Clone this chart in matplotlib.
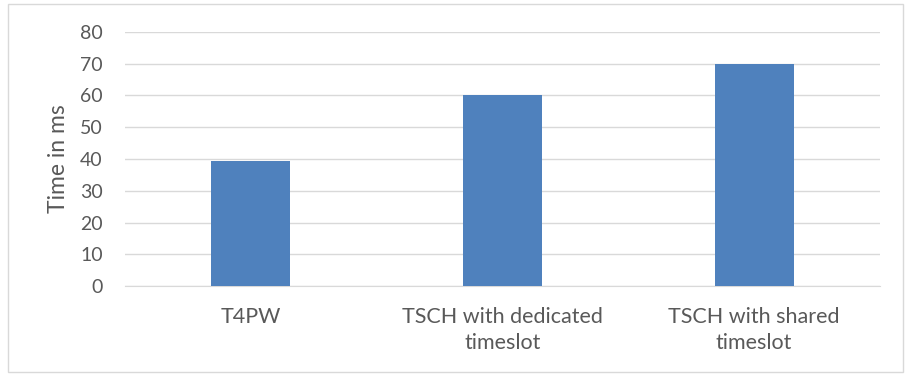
import matplotlib.pyplot as plt
from matplotlib.patches import Rectangle

categories = ["T4PW", "TSCH with dedicated\ntimeslot", "TSCH with shared\ntimeslot"]
times_ms = [39.5, 60, 70]
yticks = [0, 10, 20, 30, 40, 50, 60, 70, 80]

plt.rcParams['font.family'] = ['Lato', 'DejaVu Sans']
gris = '#595959'

fig = plt.figure(figsize=(9.09, 3.76), dpi=100)
ax = fig.add_axes([125 / 909, 90 / 376, 755 / 909, 254 / 376])

x = range(len(categories))
ax.bar(x, times_ms, width=0.315, color='#4F81BD', zorder=3)

ax.set_xlim(-0.5, len(categories) - 0.5)
ax.set_ylim(0, 80)
ax.set_yticks(yticks)
ax.set_xticks(list(x))
ax.set_xticklabels(categories, fontsize=15.5, color=gris, linespacing=1.4)
ax.tick_params(axis='y', labelsize=14, labelcolor=gris, length=0, pad=16)
ax.tick_params(axis='x', length=0, pad=15)
ax.yaxis.grid(True, color='#D9D9D9', linewidth=1, zorder=0)
for s in ['top', 'right', 'left']:
    ax.spines[s].set_visible(False)
ax.spines['bottom'].set_color('#D9D9D9')
ax.set_ylabel("Time in ms", fontsize=16.5, color=gris, labelpad=8)

# cadre autour du graphique
fig.patches.append(Rectangle((8 / 909, 4 / 376), 895 / 909, 368 / 376,
                             transform=fig.transFigure, fill=False,
                             edgecolor='#D9D9D9', linewidth=1))

fig.savefig('out.png', dpi=100)
